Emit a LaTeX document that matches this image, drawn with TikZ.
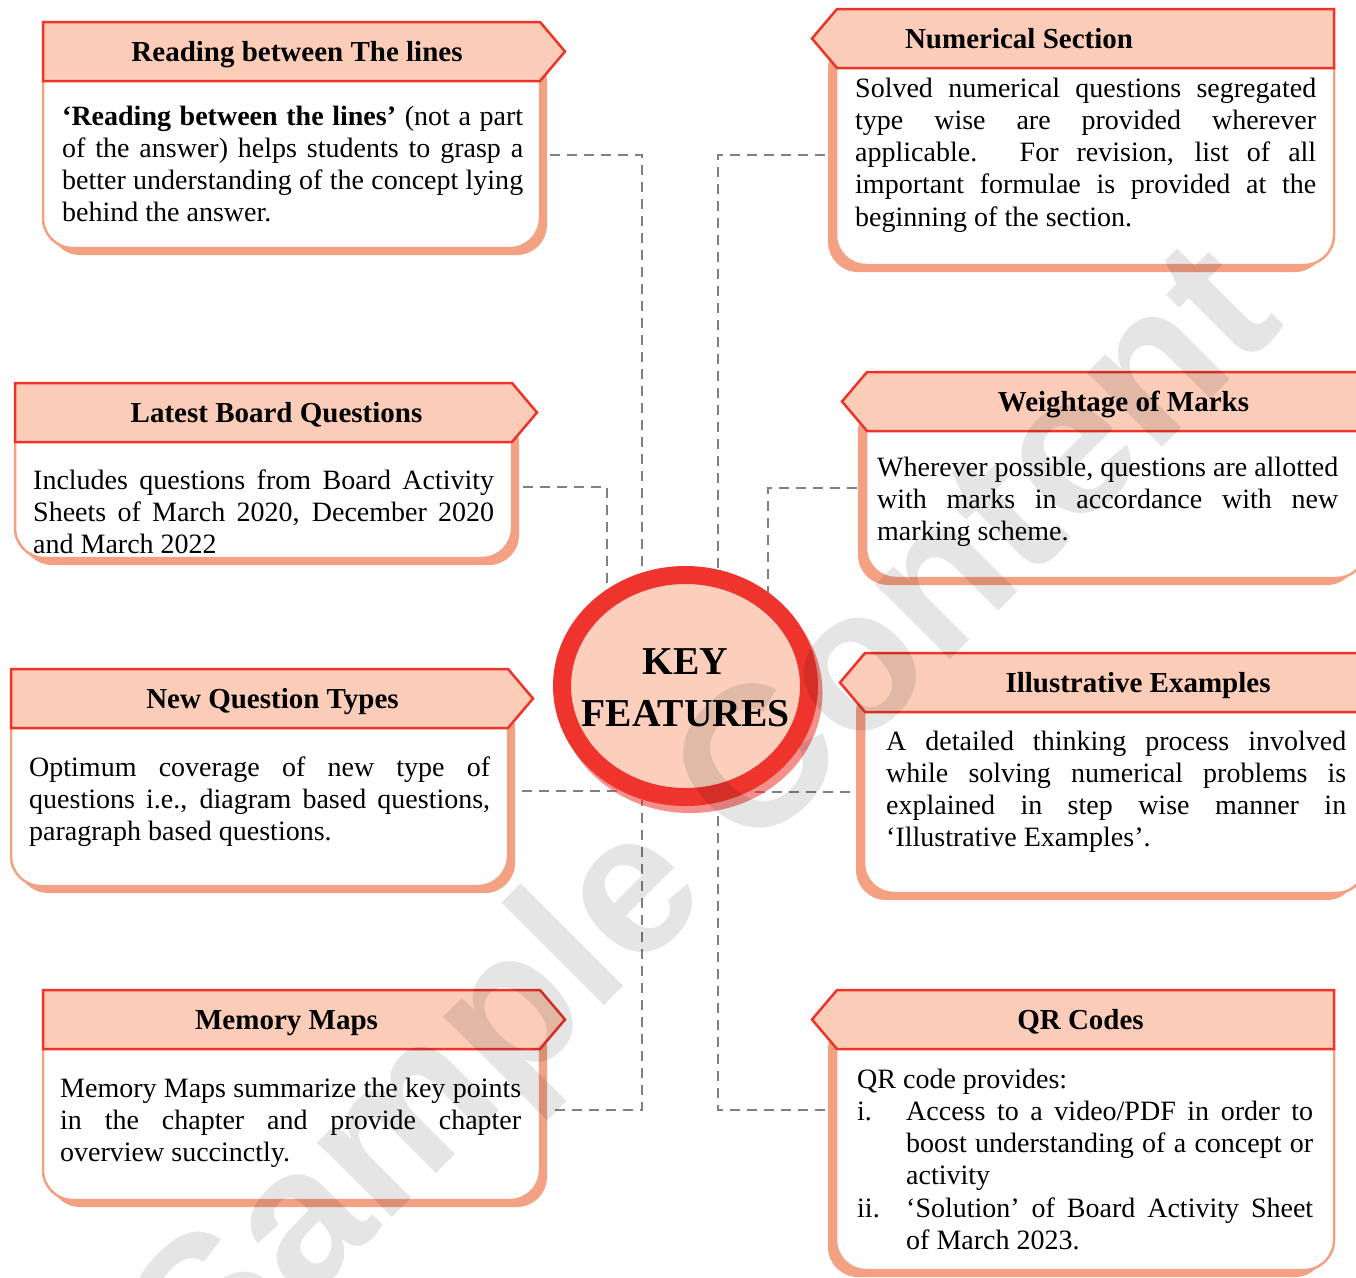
\documentclass[tikz,border=0pt]{standalone}
\usepackage{fontspec}
\setmainfont{Liberation Serif}
\newfontfamily\wmfont{Liberation Sans}
\definecolor{hdrfill}{RGB}{251,205,185}
\definecolor{hdrline}{RGB}{238,52,40}
\definecolor{bodyline}{RGB}{244,161,131}
\definecolor{conncol}{RGB}{128,128,128}
\definecolor{ringred}{RGB}{238,52,45}
\definecolor{circfill}{RGB}{251,207,187}
\tikzset{
  hdr/.style={fill=hdrfill, draw=hdrline, line width=2.5pt, line join=miter},
  bodybox/.style={fill=white, draw=bodyline, line width=2.5pt, rounded corners=30pt},
  shadowbox/.style={fill=bodyline, rounded corners=30pt},
  conn/.style={draw=conncol, line width=2.5pt, dash pattern=on 10pt off 7pt},
  title/.style={font=\fontsize{29}{34}\selectfont\bfseries, anchor=base, inner sep=0pt},
  bodytext/.style={anchor=base west, inner sep=0pt},
}
\newcommand\LeftCard[5]{% L, R, Ttop, Hbottom, Bbottom
  \fill[shadowbox] ({#1+7},{#4-30}) rectangle ({#2+7},{#5+7});
  \draw[bodybox] (#1,{#4-30}) rectangle (#2,#5);
  \draw[hdr] (#1,#3) -- (#2,#3) -- ({#2+25},{(#3+#4)/2}) -- (#2,#4) -- (#1,#4) -- cycle;
}
\newcommand\RightCard[5]{% Lflat, R, Ttop, Hbottom, Bbottom
  \fill[shadowbox] ({#1-9},{#4-30}) rectangle ({#2-9},{#5+7});
  \draw[bodybox] ({#1-1},{#4-30}) rectangle (#2,#5);
  \draw[hdr] ({#1-25},{(#3+#4)/2}) -- (#1,#3) -- (#2,#3) -- (#2,#4) -- (#1,#4) -- cycle;
}
\newcommand\BodyPar[2]{\parbox[t]{#1}{\fontsize{28}{32.25}\selectfont\tolerance=10000 \hyphenpenalty=10000 \exhyphenpenalty=10000 #2}}
\begin{document}
\begin{tikzpicture}[x=1pt,y=-1pt]
\clip (0,0) rectangle (1356,1277);
\fill[white] (0,0) rectangle (1356,1277);

% ---------- connectors (behind everything) ----------
\coordinate (a1) at (550,155);  \coordinate (j1) at (642,155);  \coordinate (k1) at (642,600);
\coordinate (a2) at (523,487);  \coordinate (j2) at (607,487);  \coordinate (k2) at (607,615);
\coordinate (a3) at (522,791);  \coordinate (k3) at (632,791);
\coordinate (a4) at (555,1110); \coordinate (j4) at (642,1110); \coordinate (k4) at (642,800);
\coordinate (a5) at (825,155);  \coordinate (j5) at (718,155);  \coordinate (k5) at (718,595);
\coordinate (a6) at (857,488);  \coordinate (j6) at (768,488);  \coordinate (k6) at (768,615);
\coordinate (a7) at (850,792);  \coordinate (k7) at (755,792);
\coordinate (a8) at (825,1110); \coordinate (j8) at (718,1110); \coordinate (k8) at (718,814);
\draw[conn] (a1) -- (j1) -- (k1);
\draw[conn] (a2) -- (j2) -- (k2);
\draw[conn] (a3) -- (k3);
\draw[conn] (a4) -- (j4) -- (k4);
\draw[conn] (a5) -- (j5) -- (k5);
\draw[conn] (a6) -- (j6) -- (k6);
\draw[conn] (a7) -- (k7);
\draw[conn] (a8) -- (j8) -- (k8);

% ---------- left cards ----------
\LeftCard{43}{540}{22}{81}{248}
\node[title] (h1) at (297,61) {Reading between The lines};
\node[bodytext] (t1) at (62,125) {\BodyPar{461pt}{\textbf{`Reading between the lines'} (not a part\linebreak of the answer) helps students to grasp a\linebreak better understanding of the concept lying\linebreak behind the answer.}};

\LeftCard{15}{512}{383}{442}{558}
\node[title] (h2) at (276.5,422) {Latest Board Questions};
\node[bodytext] (t2) at (33,489) {\BodyPar{461pt}{Includes questions from Board Activity\linebreak Sheets of March 2020, December 2020\linebreak and March 2022}};

\LeftCard{11}{508}{669}{728}{886}
\node[title] (h3) at (272.5,708) {New Question Types};
\node[bodytext] (t3) at (29,776) {\BodyPar{461pt}{Optimum coverage of new type of\linebreak questions i.e., diagram based questions,\linebreak paragraph based questions.}};

\LeftCard{43}{540}{990}{1049}{1200}
\node[title] (h4) at (286.5,1029) {Memory Maps};
\node[bodytext] (t4) at (60,1097) {\BodyPar{461pt}{Memory Maps summarize the key points\linebreak in the chapter and provide chapter\linebreak overview succinctly.}};

% ---------- right cards ----------
\RightCard{837}{1334}{9}{68}{265}
\node[title] (h5) at (1019,48) {Numerical Section};
\node[bodytext] (t5) at (855,97) {\BodyPar{461pt}{Solved numerical questions segregated\linebreak type wise are provided wherever\linebreak applicable. For revision, list of all\linebreak important formulae is provided at the\linebreak beginning of the section.}};

\RightCard{867}{1366}{372}{431}{578}
\node[title] (h6) at (1123.5,411) {Weightage of Marks};
\node[bodytext] (t6) at (877,476) {\BodyPar{461pt}{Wherever possible, questions are allotted\linebreak with marks in accordance with new\linebreak marking scheme.}};

\RightCard{865}{1366}{653}{712}{893}
\node[title] (h7) at (1138,692) {Illustrative Examples};
\node[bodytext] (t7) at (886,750) {\BodyPar{460pt}{A detailed thinking process involved\linebreak while solving numerical problems is\linebreak explained in step wise manner in\linebreak `Illustrative Examples'.}};

\RightCard{837}{1334}{990}{1049}{1270}
\node[title] (h8) at (1080.5,1029) {QR Codes};
\node[bodytext] (t8) at (857,1088) {\BodyPar{456pt}{QR code provides:\par
\hangindent=49pt \hangafter=1 \makebox[49pt][l]{i.}Access to a video/PDF in order to\linebreak boost understanding of a concept or\linebreak activity\par
\hangindent=49pt \hangafter=1 \makebox[49pt][l]{ii.}`Solution' of Board Activity Sheet\linebreak of March 2023.}};

% ---------- central circle ----------
\draw[ringred, opacity=0.55, line width=18pt] (690,693) ellipse [x radius=123.5, y radius=111];
\draw[ringred, fill=circfill, line width=18pt] (685.5,686) ellipse [x radius=123.5, y radius=111];
\node[font=\fontsize{39.5}{52}\selectfont\bfseries, align=center, inner sep=0pt] (kf) at (685.5,688) {KEY\\FEATURES};

% ---------- watermark ----------
\node[rotate=45, anchor=base, text=black, text opacity=0.1, inner sep=0pt,
      font=\wmfont\bfseries\fontsize{200}{200}\selectfont] (wm) at (748,862) {Sample Content};
\end{tikzpicture}
\end{document}
